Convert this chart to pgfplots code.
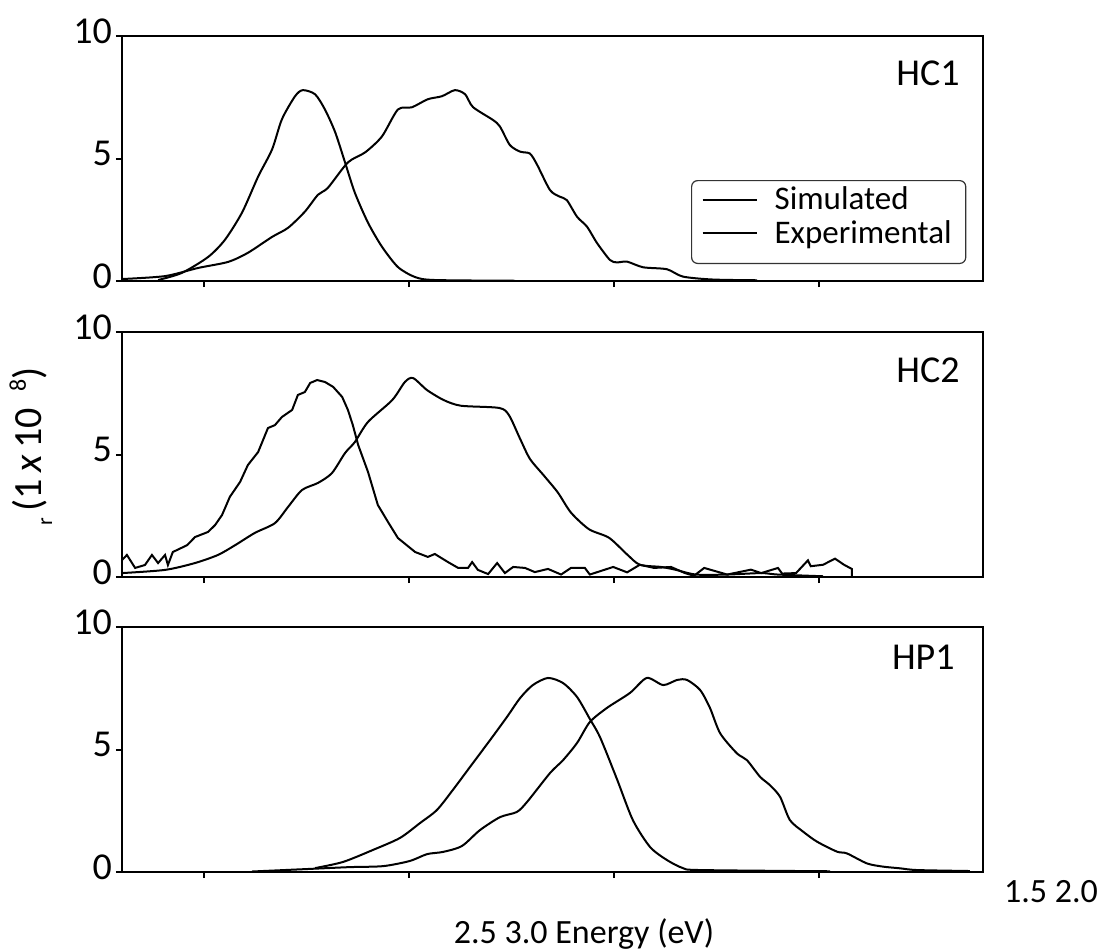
\documentclass[border=0pt]{standalone}
\usepackage{pgfplots}
\pgfplotsset{compat=1.18}
\usepackage{fontspec}
\setmainfont{Carlito}

\pgfplotsset{
  panel/.style={
    scale only axis, width=430.5pt, height=122.5pt,
    anchor=south west,
    xmin=1.3, xmax=3.4, ymin=0, ymax=10,
    xtick={1.5,2,2.5,3}, xticklabels={},
    ytick={0,5,10},
    yticklabel={\fontsize{19}{19}\selectfont\pgfmathprintnumber{\tick}},
    tick align=outside, xtick pos=bottom, ytick pos=left,
    major tick length=3pt,
    axis line style={line width=1pt, black},
    every tick/.style={black, line width=1pt},
    yticklabel style={yshift=2.5pt, xshift=1.5pt},
    /pgf/number format/assume math mode=true,
  },
  curve/.style={black, line width=1pt, no marks, smooth, tension=0.45},
  noisy/.style={black, line width=1pt, no marks},
}

\begin{document}
\begin{tikzpicture}
\useasboundingbox (0,0) rectangle (551.5pt,475pt);

% ---------------- HC1 ----------------
\begin{axis}[panel, at={(61pt,334.5pt)},
  legend style={at={(0.6609,0.4122)}, anchor=north west, draw=black!80,
    line width=0.6pt, rounded corners=3pt, fill=white,
    font=\fontsize{16.5}{19}\selectfont, inner xsep=5pt, inner ysep=1pt,
    row sep=0pt,
    /tikz/every odd column/.append style={column sep=6.5pt}},
  legend cell align=left,
  legend image code/.code={\draw[#1] (0pt,0pt) -- (27pt,0pt);},
]
\addplot[curve] coordinates {
(1.388,0.04) (1.446,0.33) (1.510,0.98) (1.551,1.68) (1.593,2.80) (1.632,4.26)
(1.666,5.37) (1.690,6.60) (1.722,7.54) (1.741,7.79) (1.771,7.62) (1.795,7.00)
(1.820,6.07) (1.844,4.84) (1.868,3.60) (1.900,2.38) (1.934,1.40) (1.973,0.57)
(2.015,0.16) (2.063,0.04) (2.259,0.01)};
\addlegendentry{Simulated}
\addplot[curve] coordinates {
(1.300,0.08) (1.405,0.20) (1.485,0.53) (1.559,0.78) (1.607,1.15) (1.666,1.80)
(1.705,2.17) (1.746,2.83) (1.778,3.52) (1.802,3.80) (1.851,4.84) (1.893,5.25)
(1.934,5.90) (1.973,7.00) (2.007,7.09) (2.046,7.42) (2.080,7.54) (2.112,7.79)
(2.137,7.62) (2.156,7.10) (2.205,6.57) (2.222,6.30) (2.246,5.55) (2.271,5.28)
(2.295,5.20) (2.312,4.76) (2.344,3.71) (2.368,3.44) (2.385,3.30) (2.410,2.62)
(2.434,2.22) (2.459,1.54) (2.490,0.86) (2.507,0.76) (2.532,0.79) (2.571,0.56)
(2.629,0.48) (2.668,0.18) (2.741,0.06) (2.849,0.03)};
\addlegendentry{Experimental}
\addlegendimage{empty legend}
\addlegendentry{}
\node[anchor=north east, inner sep=0pt, font=\fontsize{19}{19}\selectfont]
  at ([xshift=-11.5pt,yshift=-12pt]rel axis cs:1,1) {HC1};
\end{axis}

% ---------------- HC2 ----------------
\begin{axis}[panel, at={(61pt,186.5pt)}]
\addplot[noisy] coordinates {
(1.300,0.69) (1.312,0.90) (1.332,0.37) (1.356,0.49) (1.373,0.90) (1.388,0.57)
(1.405,0.90) (1.412,0.49) (1.424,1.02) (1.459,1.30) (1.478,1.63) (1.510,1.84)
(1.527,2.12) (1.544,2.53) (1.563,3.27) (1.588,3.88) (1.607,4.57) (1.632,5.10)
(1.656,6.08) (1.673,6.20) (1.690,6.53) (1.715,6.82) (1.729,7.43) (1.746,7.55)
(1.759,7.92) (1.776,8.04) (1.795,7.96) (1.815,7.76) (1.837,7.35) (1.851,6.82)
(1.863,6.20) (1.876,5.39) (1.900,4.29) (1.924,2.94) (1.949,2.24) (1.973,1.59)
(2.015,1.02) (2.046,0.82) (2.063,0.94) (2.095,0.61) (2.120,0.37) (2.144,0.37)
(2.154,0.61) (2.168,0.29) (2.193,0.12) (2.215,0.57) (2.234,0.16) (2.254,0.41)
(2.283,0.37) (2.307,0.20) (2.339,0.33) (2.371,0.10) (2.395,0.37) (2.429,0.37)
(2.441,0.10) (2.498,0.41) (2.532,0.19) (2.563,0.50) (2.598,0.37) (2.639,0.41)
(2.673,0.16) (2.695,0.05) (2.720,0.37) (2.776,0.10) (2.834,0.30) (2.859,0.16)
(2.900,0.37) (2.910,0.14) (2.944,0.16) (2.973,0.68) (2.980,0.44) (3.010,0.50)
(3.039,0.75) (3.061,0.50) (3.080,0.33) (3.080,0.00)};
\addplot[curve] coordinates {
(1.300,0.16) (1.405,0.29) (1.478,0.57) (1.534,0.90) (1.576,1.30) (1.624,1.80)
(1.673,2.20) (1.705,2.86) (1.739,3.55) (1.778,3.84) (1.812,4.24) (1.844,5.06)
(1.868,5.51) (1.900,6.33) (1.959,7.22) (1.990,7.96) (2.010,8.12) (2.044,7.63)
(2.085,7.22) (2.127,6.99) (2.220,6.90) (2.244,6.60) (2.271,5.64) (2.295,4.82)
(2.329,4.14) (2.363,3.45) (2.395,2.63) (2.439,1.95) (2.488,1.60) (2.532,0.92)
(2.563,0.50) (2.615,0.41) (2.649,0.30) (2.700,0.10) (2.776,0.10) (2.859,0.16)
(2.900,0.10) (3.010,0.03)};
\node[anchor=north east, inner sep=0pt, font=\fontsize{19}{19}\selectfont]
  at ([xshift=-11.5pt,yshift=-12.5pt]rel axis cs:1,1) {HC2};
\end{axis}

% ---------------- HP1 ----------------
\begin{axis}[panel, at={(61pt,39pt)}]
\addplot[curve] coordinates {
(1.771,0.16) (1.839,0.41) (1.912,0.90) (1.978,1.39) (2.027,2.00) (2.068,2.53)
(2.107,3.35) (2.156,4.45) (2.198,5.39) (2.239,6.33) (2.271,7.10) (2.302,7.63)
(2.339,7.92) (2.376,7.71) (2.410,7.14) (2.441,6.25) (2.466,5.50) (2.507,3.80)
(2.546,2.12) (2.588,1.02) (2.629,0.49) (2.668,0.16) (2.710,0.08) (3.027,0.03)};
\addplot[curve] coordinates {
(1.617,0.02) (1.776,0.14) (1.856,0.20) (1.937,0.24) (2.002,0.45) (2.044,0.73)
(2.083,0.82) (2.129,1.06) (2.173,1.71) (2.222,2.24) (2.263,2.45) (2.288,2.86)
(2.344,4.04) (2.376,4.57) (2.410,5.27) (2.441,6.12) (2.483,6.70) (2.539,7.31)
(2.580,7.92) (2.620,7.63) (2.654,7.84) (2.678,7.84) (2.710,7.43) (2.734,6.70)
(2.759,5.66) (2.800,4.84) (2.824,4.57) (2.856,3.89) (2.880,3.55) (2.905,3.07)
(2.929,2.12) (2.961,1.65) (2.995,1.24) (3.044,0.83) (3.068,0.76) (3.117,0.35)
(3.156,0.22) (3.198,0.15) (3.239,0.08) (3.368,0.04)};
\node[anchor=north east, inner sep=0pt, font=\fontsize{19}{19}\selectfont]
  at ([xshift=-14pt,yshift=-9pt]rel axis cs:1,1) {HP1};
\end{axis}

% ---------------- texts ----------------
\node[rotate=90, anchor=base, inner sep=0pt, font=\fontsize{20}{20}\selectfont]
  at (21pt,251.75pt)
  {\raisebox{-5pt}{\fontsize{11}{11}\selectfont r}\hspace{3pt}(1\,\textit{x}\,10\hspace{8pt}\raisebox{8pt}{\fontsize{12}{12}\selectfont 8})};
\node[anchor=base, inner sep=0pt, font=\fontsize{17}{17}\selectfont]
  at (525.5pt,24pt) {1.5 2.0};
\node[anchor=base, inner sep=0pt, font=\fontsize{17}{17}\selectfont]
  at (292pt,3.5pt) {2.5 3.0 Energy (eV)};
\end{tikzpicture}
\end{document}
